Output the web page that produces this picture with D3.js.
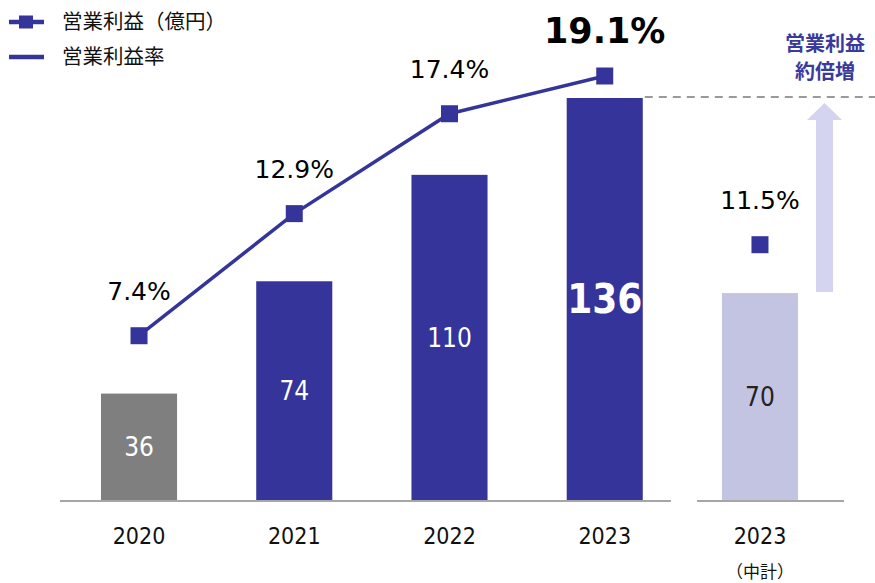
<!DOCTYPE html>
<html><head><meta charset="utf-8">
<script src="https://cdn.jsdelivr.net/npm/d3@7"></script>
<style>body{margin:0;background:#fff}svg{display:block}</style>
</head><body>
<svg id="c" width="875" height="583"></svg>
<script>
const categories = ["2020","2021","2022","2023","2023"];
const subLabels = ["","","","","（中計）"];
const profit = [36, 74, 110, 136, 70];
const rate = [7.4, 12.9, 17.4, 19.1, 11.5];
const barKinds = ["past","actual","actual","actual","plan"];
const legendLabels = ["営業利益（億円）","営業利益率"];
const noteLines = ["営業利益","約倍増"];

const BLUE = "#34349a", GRAY = "#7f7f7f", PLAN = "#c3c3e2", ARROW = "#d4d4f0";
const svg = d3.select("#c");
const idx = d3.range(categories.length);

const x = d3.scaleBand().domain(idx).range([61.4, 837.6]).paddingInner(0.51).paddingOuter(0.255);
const y = d3.scaleLinear().domain([0, 136]).range([500, 98]);
const yr = d3.scaleLinear().domain([0, 19.1]).range([500, 76]);
const cx = i => x(i) + x.bandwidth() / 2;

// bars
svg.selectAll("rect.bar").data(idx).join("rect")
  .attr("x", i => x(i)).attr("width", x.bandwidth())
  .attr("y", i => y(profit[i])).attr("height", i => y(0) - y(profit[i]))
  .attr("fill", i => barKinds[i] === "past" ? GRAY : barKinds[i] === "plan" ? PLAN : BLUE);

// baseline segments
svg.append("line").attr("x1", 60).attr("x2", 671).attr("y1", 501).attr("y2", 501)
  .attr("stroke", "#a6a6a6").attr("stroke-width", 2);
svg.append("line").attr("x1", 697).attr("x2", 844).attr("y1", 501).attr("y2", 501)
  .attr("stroke", "#a6a6a6").attr("stroke-width", 2);

// x axis labels
const ax = svg.append("g").attr("transform", "translate(0,501)")
  .call(d3.axisBottom(x).tickSize(0).tickPadding(27).tickFormat(i => categories[i]));
ax.select(".domain").remove();
ax.selectAll("text").attr("font-family", "'DejaVu Sans Condensed','DejaVu Sans',sans-serif")
  .attr("font-size", 23).attr("fill", "#111");
svg.selectAll("text.sub").data(idx.filter(i => subLabels[i])).join("text")
  .attr("x", i => cx(i)).attr("y", 578).attr("text-anchor", "middle")
  .attr("font-family", "'Noto Sans CJK JP',sans-serif").attr("font-size", 17).attr("fill", "#111")
  .text(i => subLabels[i]);

// dashed reference line
svg.append("line").attr("x1", x(3) + x.bandwidth() + 2).attr("x2", 875)
  .attr("y1", y(136) - 1).attr("y2", y(136) - 1)
  .attr("stroke", "#9a9a9a").attr("stroke-width", 2).attr("stroke-dasharray", "8,6");

// arrow
const axc = 824.5, tipY = y(136) + 5, baseY = y(70) - 1;
svg.append("path")
  .attr("d", `M${axc - 8.5},${baseY} L${axc - 8.5},${tipY + 17} L${axc - 17.5},${tipY + 17} L${axc},${tipY} L${axc + 17.5},${tipY + 17} L${axc + 8.5},${tipY + 17} L${axc + 8.5},${baseY} Z`)
  .attr("fill", ARROW);

// note text
svg.selectAll("text.note").data(noteLines).join("text")
  .attr("x", 825).attr("y", (d, i) => 51 + i * 28).attr("text-anchor", "middle")
  .attr("font-family", "'Noto Sans CJK JP',sans-serif").attr("font-weight", "bold")
  .attr("font-size", 20).attr("fill", "#3a3a9c").text(d => d);

// line for actuals
const lineIdx = idx.slice(0, 4);
svg.append("path").datum(lineIdx)
  .attr("d", d3.line().x(i => cx(i)).y(i => yr(rate[i])))
  .attr("fill", "none").attr("stroke", BLUE).attr("stroke-width", 3.5);

// markers
const ms = 17;
svg.selectAll("rect.mk").data(idx).join("rect")
  .attr("x", i => cx(i) - ms / 2).attr("y", i => yr(rate[i]) - ms / 2)
  .attr("width", ms).attr("height", ms).attr("fill", BLUE);

// rate labels
svg.selectAll("text.rate").data(idx).join("text")
  .attr("x", i => cx(i)).attr("y", i => yr(rate[i]) - (i === 3 ? 33 : 36))
  .attr("text-anchor", "middle")
  .attr("font-family", "'DejaVu Sans',sans-serif")
  .attr("font-size", i => i === 3 ? 35 : 25)
  .attr("font-weight", i => i === 3 ? "bold" : "normal")
  .attr("fill", "#000").text(i => rate[i].toFixed(1) + "%");

// bar value labels
svg.selectAll("text.val").data(idx).join("text")
  .attr("x", i => cx(i)).attr("y", i => (y(profit[i]) + y(0)) / 2)
  .attr("dy", "0.36em").attr("text-anchor", "middle")
  .attr("font-family", "'DejaVu Sans Condensed','DejaVu Sans',sans-serif")
  .attr("font-size", i => i === 3 ? 40 : 26)
  .attr("font-weight", i => i === 3 ? "bold" : "normal")
  .attr("fill", i => barKinds[i] === "plan" ? "#222" : "#fff")
  .text(i => profit[i]);

// legend
const lg = svg.append("g");
[22, 57].forEach((ly, k) => {
  lg.append("line").attr("x1", 9).attr("x2", 44).attr("y1", ly).attr("y2", ly)
    .attr("stroke", BLUE).attr("stroke-width", 4.5);
  if (k === 0) lg.append("rect").attr("x", 19).attr("y", ly - 6.5).attr("width", 14).attr("height", 13).attr("fill", BLUE);
  lg.append("text").attr("x", 62).attr("y", ly).attr("dy", "0.36em")
    .attr("font-family", "'Noto Sans CJK JP',sans-serif").attr("font-size", 20.5).attr("fill", "#111")
    .text(legendLabels[k]);
});
</script>
</body></html>
